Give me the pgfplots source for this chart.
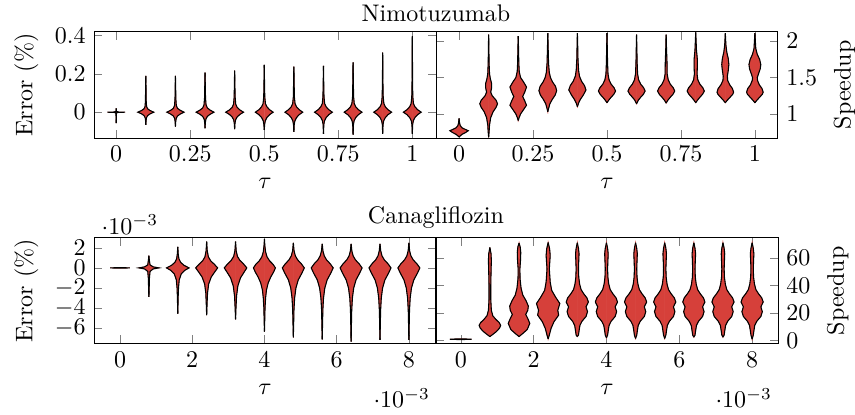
\documentclass[border=0pt]{standalone}
\usepackage{pgfplots}
\pgfplotsset{compat=1.18}
\definecolor{vred}{HTML}{D6403A}

\pgfplotsset{
  vfill/.style={fill=vred, draw=vred, line width=0.2pt, mark=none, forget plot},
  vline/.style={black, line width=0.45pt, mark=none, forget plot},
  panel/.style={width=142.5pt, height=44.2pt, scale only axis,
    xlabel={$\tau$}, major tick length=3.5pt, tick style={black!50}},
}

% #1 position, #2 x spacing, #3 y factor, #4 profile (y = value, w = half width as share of spacing)
\newcommand{\violin}[4]{%
  \addplot[vfill] table[row sep=\\, x expr={#1+#2*\thisrow{w}}, y expr={#3*\thisrow{y}}] {#4} -- cycle;
  \addplot[vfill] table[row sep=\\, x expr={#1-#2*\thisrow{w}}, y expr={#3*\thisrow{y}}] {#4} -- cycle;
  \addplot[vline] table[row sep=\\, x expr={#1+#2*\thisrow{w}}, y expr={#3*\thisrow{y}}] {#4};
  \addplot[vline] table[row sep=\\, x expr={#1-#2*\thisrow{w}}, y expr={#3*\thisrow{y}}] {#4};
}

\begin{document}
\begin{tikzpicture}
% Nimotuzumab, error
\begin{axis}[panel, at={(0,0)}, anchor=south west,
  xmin=-0.075, xmax=1.08, ymin=-0.135, ymax=0.42,
  xtick={0,0.25,0.5,0.75,1}, ytick={0,0.2,0.4},
  ylabel={Error (\%)},
  title={Nimotuzumab}, title style={at={(1,1)}, anchor=south, yshift=-5.5pt}]
\violin{0}{0.1}{1}{y w\\ -0.057 0\\ -0.004 0.008\\ -0.0008 0.08\\ 0 0.3\\ 0.0008 0.08\\ 0.004 0.008\\ 0.02 0\\}
\violin{0.1}{0.1}{1}{y w\\ -0.066 0\\ -0.045 0.008\\ -0.03 0.02\\ -0.018 0.06\\ -0.009 0.14\\ 0 0.27\\ 0.009 0.14\\ 0.018 0.06\\ 0.03 0.025\\ 0.06 0.012\\ 0.12 0.007\\ 0.19 0\\}
\violin{0.2}{0.1}{1}{y w\\ -0.075 0\\ -0.05 0.01\\ -0.033 0.025\\ -0.02 0.07\\ -0.01 0.16\\ 0 0.29\\ 0.01 0.16\\ 0.02 0.07\\ 0.035 0.03\\ 0.07 0.014\\ 0.13 0.008\\ 0.19 0\\}
\violin{0.3}{0.1}{1}{y w\\ -0.084 0\\ -0.055 0.01\\ -0.036 0.03\\ -0.022 0.08\\ -0.011 0.17\\ 0 0.3\\ 0.011 0.17\\ 0.022 0.08\\ 0.038 0.035\\ 0.075 0.016\\ 0.14 0.008\\ 0.207 0\\}
\violin{0.4}{0.1}{1}{y w\\ -0.089 0\\ -0.06 0.011\\ -0.04 0.032\\ -0.025 0.085\\ -0.012 0.175\\ 0 0.3\\ 0.012 0.175\\ 0.025 0.085\\ 0.042 0.037\\ 0.078 0.017\\ 0.145 0.008\\ 0.217 0\\}
\violin{0.5}{0.1}{1}{y w\\ -0.092 0\\ -0.065 0.012\\ -0.045 0.035\\ -0.028 0.09\\ -0.013 0.18\\ 0 0.3\\ 0.013 0.18\\ 0.028 0.09\\ 0.045 0.04\\ 0.08 0.018\\ 0.15 0.009\\ 0.247 0\\}
\violin{0.6}{0.1}{1}{y w\\ -0.103 0\\ -0.065 0.012\\ -0.045 0.035\\ -0.028 0.09\\ -0.013 0.18\\ 0 0.3\\ 0.013 0.18\\ 0.028 0.09\\ 0.045 0.04\\ 0.08 0.018\\ 0.15 0.009\\ 0.238 0\\}
\violin{0.7}{0.1}{1}{y w\\ -0.113 0\\ -0.065 0.012\\ -0.045 0.035\\ -0.028 0.09\\ -0.013 0.18\\ 0 0.3\\ 0.013 0.18\\ 0.028 0.09\\ 0.045 0.04\\ 0.08 0.018\\ 0.15 0.009\\ 0.242 0\\}
\violin{0.8}{0.1}{1}{y w\\ -0.118 0\\ -0.065 0.012\\ -0.045 0.035\\ -0.028 0.09\\ -0.013 0.18\\ 0 0.3\\ 0.013 0.18\\ 0.028 0.09\\ 0.045 0.04\\ 0.08 0.018\\ 0.15 0.009\\ 0.261 0\\}
\violin{0.9}{0.1}{1}{y w\\ -0.113 0\\ -0.065 0.012\\ -0.045 0.035\\ -0.028 0.09\\ -0.013 0.18\\ 0 0.3\\ 0.013 0.18\\ 0.028 0.09\\ 0.045 0.04\\ 0.08 0.018\\ 0.15 0.009\\ 0.311 0\\}
\violin{1.0}{0.1}{1}{y w\\ -0.113 0\\ -0.065 0.012\\ -0.045 0.035\\ -0.028 0.09\\ -0.013 0.18\\ 0 0.3\\ 0.013 0.18\\ 0.028 0.09\\ 0.045 0.04\\ 0.08 0.018\\ 0.15 0.009\\ 0.25 0.006\\ 0.398 0\\}
\end{axis}

% Nimotuzumab, speedup
\begin{axis}[panel, at={(142.5pt,0)}, anchor=south west,
  xmin=-0.078, xmax=1.078, ymin=0.67, ymax=2.128,
  xtick={0,0.25,0.5,0.75,1}, ytick={1,1.5,2},
  yticklabel pos=right, ylabel={Speedup}]
\violin{0}{0.1}{1}{y w\\ 0.685 0\\ 0.72 0.1\\ 0.745 0.22\\ 0.77 0.31\\ 0.79 0.2\\ 0.81 0.1\\ 0.84 0.04\\ 0.88 0.015\\ 0.94 0\\}
\violin{0.1}{0.1}{1}{y w\\ 0.68 0\\ 0.75 0.015\\ 0.85 0.03\\ 0.95 0.07\\ 1.03 0.15\\ 1.09 0.25\\ 1.14 0.3\\ 1.19 0.25\\ 1.25 0.12\\ 1.3 0.07\\ 1.36 0.1\\ 1.42 0.1\\ 1.48 0.06\\ 1.55 0.03\\ 1.7 0.015\\ 1.9 0.008\\ 2.09 0\\}
\violin{0.2}{0.1}{1}{y w\\ 0.91 0\\ 0.95 0.03\\ 1 0.08\\ 1.06 0.18\\ 1.12 0.28\\ 1.18 0.22\\ 1.24 0.15\\ 1.3 0.22\\ 1.37 0.28\\ 1.44 0.18\\ 1.5 0.08\\ 1.58 0.035\\ 1.7 0.02\\ 1.9 0.01\\ 2.07 0\\}
\violin{0.3}{0.1}{1}{y w\\ 1.03 0\\ 1.08 0.03\\ 1.14 0.07\\ 1.2 0.15\\ 1.26 0.25\\ 1.32 0.3\\ 1.38 0.26\\ 1.44 0.16\\ 1.5 0.09\\ 1.57 0.05\\ 1.7 0.025\\ 1.9 0.012\\ 2.11 0\\}
\violin{0.4}{0.1}{1}{y w\\ 1.1 0\\ 1.15 0.04\\ 1.2 0.1\\ 1.26 0.2\\ 1.33 0.29\\ 1.39 0.24\\ 1.45 0.14\\ 1.52 0.07\\ 1.6 0.04\\ 1.75 0.02\\ 1.95 0.01\\ 2.11 0\\}
\violin{0.5}{0.1}{1}{y w\\ 1.155 0\\ 1.19 0.06\\ 1.23 0.14\\ 1.27 0.23\\ 1.315 0.29\\ 1.36 0.24\\ 1.41 0.14\\ 1.47 0.07\\ 1.55 0.035\\ 1.7 0.02\\ 1.9 0.01\\ 2.11 0\\}
\violin{0.6}{0.1}{1}{y w\\ 1.14 0\\ 1.19 0.06\\ 1.23 0.14\\ 1.27 0.23\\ 1.315 0.29\\ 1.36 0.24\\ 1.41 0.14\\ 1.47 0.07\\ 1.55 0.035\\ 1.7 0.02\\ 1.9 0.01\\ 2.09 0\\}
\violin{0.7}{0.1}{1}{y w\\ 1.15 0\\ 1.19 0.06\\ 1.23 0.14\\ 1.27 0.23\\ 1.315 0.29\\ 1.36 0.24\\ 1.41 0.14\\ 1.47 0.07\\ 1.55 0.035\\ 1.7 0.03\\ 1.9 0.012\\ 2.09 0\\}
\violin{0.8}{0.1}{1}{y w\\ 1.155 0\\ 1.19 0.06\\ 1.23 0.14\\ 1.27 0.23\\ 1.315 0.29\\ 1.36 0.24\\ 1.41 0.14\\ 1.47 0.07\\ 1.55 0.045\\ 1.65 0.055\\ 1.75 0.055\\ 1.88 0.025\\ 2.12 0\\}
\violin{0.9}{0.1}{1}{y w\\ 1.155 0\\ 1.19 0.07\\ 1.23 0.16\\ 1.27 0.25\\ 1.3 0.28\\ 1.35 0.24\\ 1.4 0.15\\ 1.46 0.08\\ 1.52 0.07\\ 1.6 0.1\\ 1.68 0.12\\ 1.76 0.1\\ 1.85 0.05\\ 1.95 0.02\\ 2.11 0\\}
\violin{1.0}{0.1}{1}{y w\\ 1.155 0\\ 1.19 0.07\\ 1.23 0.16\\ 1.27 0.25\\ 1.3 0.28\\ 1.35 0.24\\ 1.4 0.15\\ 1.46 0.09\\ 1.5 0.08\\ 1.55 0.12\\ 1.62 0.18\\ 1.68 0.2\\ 1.75 0.16\\ 1.82 0.08\\ 1.9 0.03\\ 2.11 0\\}
\end{axis}

% Canagliflozin, error
\begin{axis}[panel, at={(0,-85.8pt)}, anchor=south west,
  xmin=-0.00072, xmax=0.00875, ymin=-0.00758, ymax=0.003,
  xtick={0,0.002,0.004,0.006,0.008}, ytick={-0.006,-0.004,-0.002,0,0.002},
  ylabel={Error (\%)},
  title={Canagliflozin}, title style={at={(1,1)}, anchor=south, yshift=-5.7pt}]
\violin{0}{0.0008}{0.001}{y w\\ -0.03 0\\ 0 0.34\\ 0.03 0\\}
\violin{0.0008}{0.0008}{0.001}{y w\\ -2.9 0\\ -1 0.02\\ -0.35 0.04\\ -0.1 0.15\\ 0 0.35\\ 0.1 0.15\\ 0.3 0.04\\ 0.8 0.015\\ 1.22 0\\}
\violin{0.0016}{0.0008}{0.001}{y w\\ -4.55 0\\ -3 0.012\\ -2 0.025\\ -1.2 0.05\\ -0.6 0.12\\ -0.25 0.24\\ 0 0.39\\ 0.25 0.22\\ 0.55 0.1\\ 0.9 0.04\\ 1.4 0.015\\ 2.1 0\\}
\violin{0.0024}{0.0008}{0.001}{y w\\ -4.7 0\\ -3.5 0.015\\ -2.5 0.03\\ -1.6 0.07\\ -0.9 0.16\\ -0.4 0.28\\ 0 0.38\\ 0.35 0.27\\ 0.7 0.14\\ 1.1 0.06\\ 1.7 0.02\\ 2.63 0\\}
\violin{0.0032}{0.0008}{0.001}{y w\\ -5.14 0\\ -4 0.015\\ -2.8 0.035\\ -1.8 0.08\\ -1 0.17\\ -0.45 0.29\\ 0 0.39\\ 0.38 0.28\\ 0.75 0.15\\ 1.15 0.065\\ 1.7 0.022\\ 2.63 0\\}
\violin{0.004}{0.0008}{0.001}{y w\\ -6.36 0\\ -5 0.012\\ -4 0.02\\ -3 0.04\\ -2.2 0.07\\ -1.5 0.13\\ -0.9 0.22\\ -0.4 0.32\\ 0 0.38\\ 0.35 0.3\\ 0.7 0.18\\ 1.1 0.09\\ 1.6 0.04\\ 2.2 0.015\\ 2.86 0\\}
\violin{0.0048}{0.0008}{0.001}{y w\\ -6.92 0\\ -5.5 0.012\\ -4.2 0.022\\ -3 0.045\\ -2 0.09\\ -1.2 0.17\\ -0.5 0.3\\ 0 0.38\\ 0.4 0.28\\ 0.8 0.15\\ 1.2 0.07\\ 1.7 0.025\\ 2.5 0\\}
\violin{0.0056}{0.0008}{0.001}{y w\\ -7.12 0\\ -5.5 0.012\\ -4.2 0.022\\ -3 0.045\\ -2 0.09\\ -1.2 0.17\\ -0.5 0.3\\ 0 0.38\\ 0.4 0.28\\ 0.8 0.15\\ 1.2 0.07\\ 1.7 0.025\\ 2.4 0\\}
\violin{0.0064}{0.0008}{0.001}{y w\\ -7.35 0\\ -5.5 0.012\\ -4.2 0.022\\ -3 0.045\\ -2 0.09\\ -1.2 0.17\\ -0.5 0.3\\ 0 0.38\\ 0.4 0.28\\ 0.8 0.15\\ 1.2 0.07\\ 1.7 0.025\\ 2.4 0\\}
\violin{0.0072}{0.0008}{0.001}{y w\\ -7.18 0\\ -5.5 0.012\\ -4.2 0.022\\ -3 0.045\\ -2 0.09\\ -1.2 0.17\\ -0.5 0.3\\ 0 0.38\\ 0.4 0.28\\ 0.8 0.15\\ 1.2 0.07\\ 1.7 0.025\\ 2.4 0\\}
\violin{0.008}{0.0008}{0.001}{y w\\ -7.18 0\\ -5.5 0.012\\ -4.2 0.022\\ -3 0.045\\ -2 0.09\\ -1.2 0.17\\ -0.5 0.3\\ 0 0.38\\ 0.4 0.28\\ 0.8 0.15\\ 1.2 0.07\\ 1.7 0.025\\ 2.5 0\\}
\end{axis}

% Canagliflozin, speedup
\begin{axis}[panel, at={(142.5pt,-85.8pt)}, anchor=south west,
  xmin=-0.00068, xmax=0.00871, ymin=-2.4, ymax=74.6,
  xtick={0,0.002,0.004,0.006,0.008}, ytick={0,20,40,60},
  yticklabel pos=right, ylabel={Speedup}]
\violin{0}{0.0008}{1}{y w\\ 0.7 0\\ 1 0.37\\ 1.3 0\\}
\violin{0.0008}{0.0008}{1}{y w\\ 2.9 0\\ 4.5 0.1\\ 6.5 0.22\\ 9 0.33\\ 11 0.37\\ 13 0.32\\ 15.5 0.2\\ 18 0.1\\ 22 0.05\\ 30 0.03\\ 40 0.03\\ 50 0.04\\ 58 0.05\\ 63 0.04\\ 67.6 0\\}
\violin{0.0016}{0.0008}{1}{y w\\ 2.9 0\\ 5 0.12\\ 8 0.28\\ 12.5 0.37\\ 16 0.3\\ 19 0.23\\ 22 0.3\\ 25 0.32\\ 29 0.24\\ 33 0.13\\ 38 0.07\\ 45 0.035\\ 52 0.03\\ 58 0.05\\ 64 0.06\\ 68 0.04\\ 70.8 0\\}
\violin{0.0024}{0.0008}{1}{y w\\ 1.2 0\\ 4 0.04\\ 8.9 0.1\\ 13.7 0.2\\ 18.5 0.36\\ 22 0.33\\ 26.9 0.4\\ 31.7 0.25\\ 36.5 0.12\\ 42.5 0.07\\ 52 0.04\\ 61.8 0.07\\ 66.6 0.05\\ 71.2 0\\}
\violin{0.0032}{0.0008}{1}{y w\\ 2.9 0\\ 4 0.04\\ 7 0.06\\ 11 0.09\\ 14 0.16\\ 17.5 0.3\\ 21 0.35\\ 24.5 0.3\\ 28 0.38\\ 31 0.33\\ 34 0.22\\ 37 0.13\\ 41 0.08\\ 46 0.05\\ 52 0.04\\ 58 0.05\\ 63 0.06\\ 67 0.04\\ 71 0\\}
\violin{0.004}{0.0008}{1}{y w\\ 2 0\\ 4 0.04\\ 7 0.06\\ 11 0.09\\ 14 0.16\\ 17.5 0.3\\ 21 0.35\\ 24.5 0.3\\ 28 0.38\\ 31 0.33\\ 34 0.22\\ 37 0.13\\ 41 0.08\\ 46 0.05\\ 52 0.04\\ 58 0.05\\ 63 0.06\\ 67 0.04\\ 71 0\\}
\violin{0.0048}{0.0008}{1}{y w\\ 1.5 0\\ 4 0.04\\ 7 0.06\\ 11 0.09\\ 14 0.16\\ 17.5 0.3\\ 21 0.35\\ 24.5 0.3\\ 28 0.38\\ 31 0.33\\ 34 0.22\\ 37 0.13\\ 41 0.08\\ 46 0.05\\ 52 0.04\\ 58 0.05\\ 63 0.06\\ 67 0.04\\ 71 0\\}
\violin{0.0056}{0.0008}{1}{y w\\ 1.5 0\\ 4 0.04\\ 7 0.06\\ 11 0.09\\ 14 0.16\\ 17.5 0.3\\ 21 0.35\\ 24.5 0.3\\ 28 0.38\\ 31 0.33\\ 34 0.22\\ 37 0.13\\ 41 0.08\\ 46 0.05\\ 52 0.04\\ 58 0.05\\ 63 0.06\\ 67 0.04\\ 71 0\\}
\violin{0.0064}{0.0008}{1}{y w\\ 2.5 0\\ 4 0.04\\ 7 0.06\\ 11 0.09\\ 14 0.16\\ 17.5 0.3\\ 21 0.35\\ 24.5 0.3\\ 28 0.38\\ 31 0.33\\ 34 0.22\\ 37 0.13\\ 41 0.08\\ 46 0.05\\ 52 0.04\\ 58 0.05\\ 63 0.06\\ 67 0.04\\ 71 0\\}
\violin{0.0072}{0.0008}{1}{y w\\ 2.5 0\\ 4 0.04\\ 7 0.06\\ 11 0.09\\ 14 0.16\\ 17.5 0.3\\ 21 0.35\\ 24.5 0.3\\ 28 0.38\\ 31 0.33\\ 34 0.22\\ 37 0.13\\ 41 0.08\\ 46 0.05\\ 52 0.04\\ 58 0.05\\ 63 0.06\\ 67 0.04\\ 71 0\\}
\violin{0.008}{0.0008}{1}{y w\\ 1 0\\ 4 0.04\\ 7 0.06\\ 11 0.09\\ 14 0.16\\ 17.5 0.3\\ 21 0.35\\ 24.5 0.3\\ 28 0.38\\ 31 0.33\\ 34 0.22\\ 37 0.13\\ 41 0.08\\ 46 0.05\\ 52 0.04\\ 58 0.05\\ 63 0.06\\ 67 0.04\\ 71 0\\}
\end{axis}
% page size as in the reference
\pgfresetboundingbox
\path (-39.17pt,57.5pt) rectangle (317.1pt,-115.4pt);
\end{tikzpicture}
\end{document}
